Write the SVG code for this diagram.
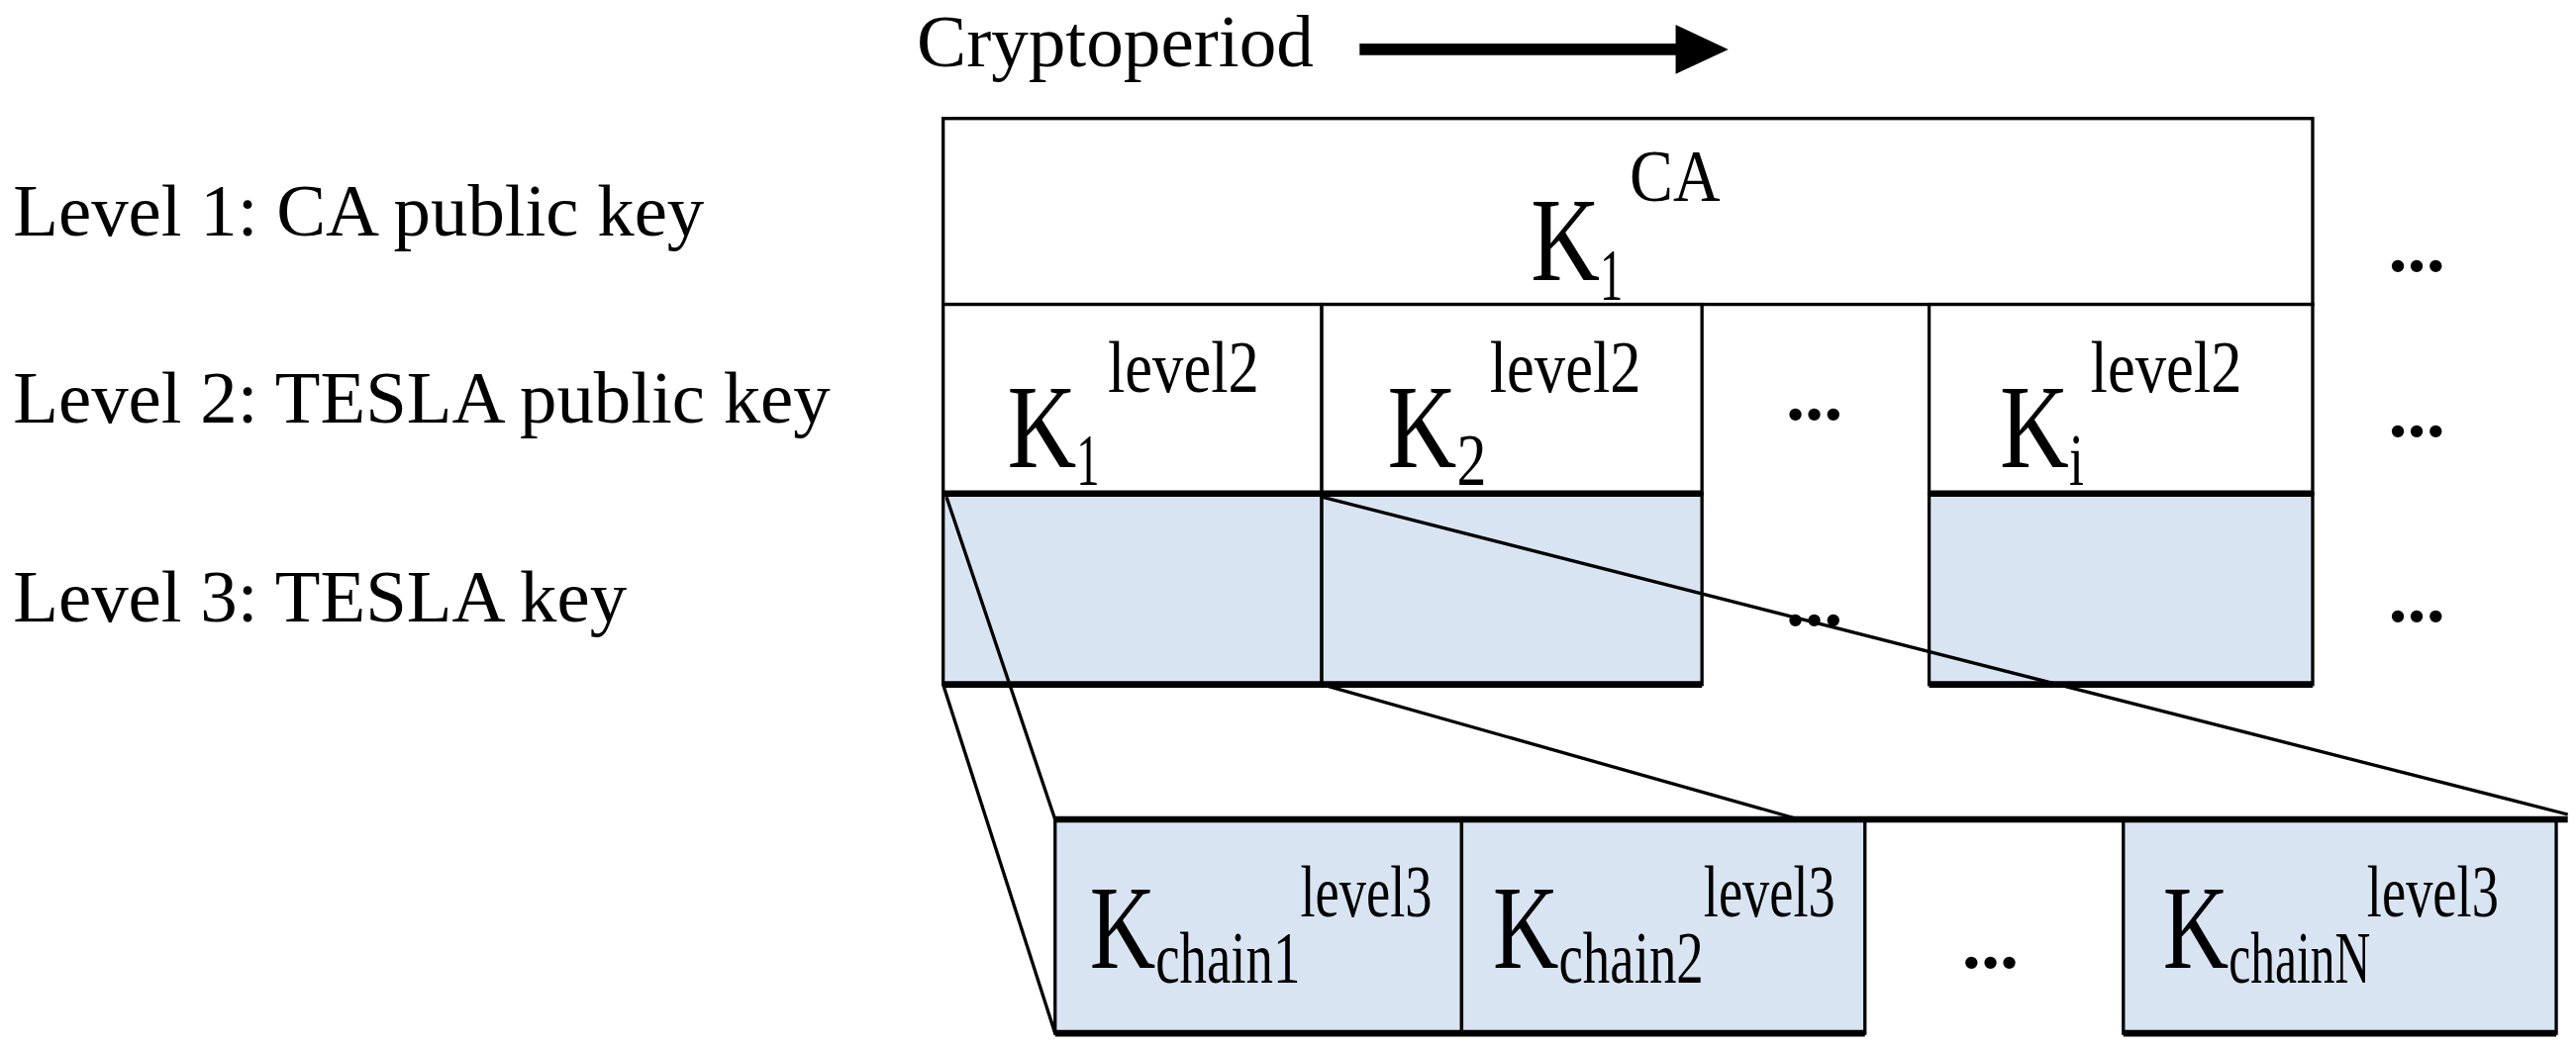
<svg xmlns="http://www.w3.org/2000/svg" width="2602" height="1059" viewBox="0 0 2602 1059">
<style>
text{font-family:"Liberation Serif","Times New Roman",serif;fill:#000}
.lab{font-size:45px}
.big{font-size:72px}
.sm{font-size:44px}
.dt{font-size:46px;font-weight:bold}
.cell{stroke:#000;stroke-width:2}
.w{fill:#fff}
.b{fill:#d9e4f3}
.ln{stroke:#000;stroke-width:2;fill:none}
.th{stroke:#000;stroke-width:4;fill:none}
</style>
<rect width="2602" height="1059" fill="#fff"/>
<g transform="scale(1.66262)">
<g id="title">
<text class="lab" x="557" y="40" textLength="241" lengthAdjust="spacingAndGlyphs">Cryptoperiod</text>
<path d="M826 30 H1020" stroke="#000" stroke-width="7"/>
<polygon points="1018,15 1050,30 1018,45" fill="#000"/>
</g>
<g id="labels">
<text class="lab" x="8" y="143">Level 1: CA public key</text>
<text class="lab" x="8" y="257">Level 2: TESLA public key</text>
<text class="lab" x="8" y="378">Level 3: TESLA key</text>
</g>
<g id="level1">
<rect class="cell w" x="573" y="72" width="832" height="113"/>
<text class="big" x="930" y="170" textLength="42" lengthAdjust="spacingAndGlyphs">K</text><text class="sm" x="972" y="182" textLength="14" lengthAdjust="spacingAndGlyphs">1</text><text class="sm" x="990" y="122" textLength="55" lengthAdjust="spacingAndGlyphs">CA</text>
</g>
<g id="level2">
<rect class="cell w" x="573" y="185" width="230" height="115"/>
<rect class="cell w" x="803" y="185" width="231" height="115"/>
<rect class="cell w" x="1172" y="185" width="233" height="115"/>
<text class="big" x="612" y="284" textLength="42" lengthAdjust="spacingAndGlyphs">K</text><text class="sm" x="654" y="295" textLength="14" lengthAdjust="spacingAndGlyphs">1</text><text class="sm" x="673" y="238" textLength="92" lengthAdjust="spacingAndGlyphs">level2</text>
<text class="big" x="843" y="284" textLength="42" lengthAdjust="spacingAndGlyphs">K</text><text class="sm" x="885" y="295" textLength="18" lengthAdjust="spacingAndGlyphs">2</text><text class="sm" x="905" y="238" textLength="92" lengthAdjust="spacingAndGlyphs">level2</text>
<text class="big" x="1215" y="284" textLength="42" lengthAdjust="spacingAndGlyphs">K</text><text class="sm" x="1257" y="295" textLength="9" lengthAdjust="spacingAndGlyphs">i</text><text class="sm" x="1270" y="238" textLength="92" lengthAdjust="spacingAndGlyphs">level2</text>
</g>
<g id="level3">
<rect class="cell b" x="573" y="300" width="230" height="116"/>
<rect class="cell b" x="803" y="300" width="231" height="116"/>
<rect class="cell b" x="1172" y="300" width="233" height="116"/>
<path class="th" d="M573 300 H1034 M1172 300 H1405 M573 416 H1034 M1172 416 H1405"/>
</g>
<g id="chain">
<rect class="cell b" x="641" y="498" width="247" height="130"/>
<rect class="cell b" x="888" y="498" width="245" height="130"/>
<rect class="cell b" x="1290" y="498" width="263" height="130"/>
<path class="th" d="M641 498 H1560 M641 628 H1133 M1290 628 H1553"/>
<text class="big" x="662" y="588" textLength="40" lengthAdjust="spacingAndGlyphs">K</text><text class="sm" x="702" y="597" textLength="88" lengthAdjust="spacingAndGlyphs">chain1</text><text class="sm" x="790" y="557" textLength="80" lengthAdjust="spacingAndGlyphs">level3</text>
<text class="big" x="907" y="588" textLength="40" lengthAdjust="spacingAndGlyphs">K</text><text class="sm" x="947" y="597" textLength="88" lengthAdjust="spacingAndGlyphs">chain2</text><text class="sm" x="1035" y="557" textLength="80" lengthAdjust="spacingAndGlyphs">level3</text>
<text class="big" x="1314" y="588" textLength="40" lengthAdjust="spacingAndGlyphs">K</text><text class="sm" x="1354" y="597" textLength="86" lengthAdjust="spacingAndGlyphs">chainN</text><text class="sm" x="1438" y="557" textLength="80" lengthAdjust="spacingAndGlyphs">level3</text>
</g>
<g id="connectors">
<path class="ln" d="M575 302 L641 498"/>
<path class="ln" d="M573 416 L641 628"/>
<path class="ln" d="M803 302 L1560 495"/>
<path class="ln" d="M803 416 L1093 498"/>
</g>
<g id="dots">
<text class="dt" x="1451" y="165">...</text>
<text class="dt" x="1451" y="265">...</text>
<text class="dt" x="1451" y="378">...</text>
<text class="dt" x="1085" y="255">...</text>
<text class="dt" x="1085" y="380">...</text>
<text class="dt" x="1192" y="588">...</text>
</g>
</g>
</svg>
